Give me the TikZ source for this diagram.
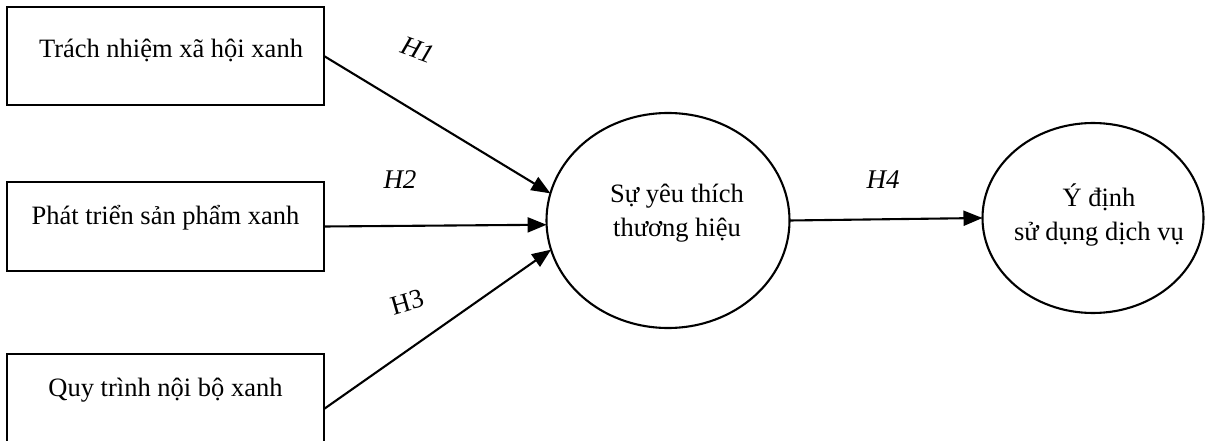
\documentclass[tikz,border=0pt]{standalone}
\usepackage{fontspec}
\setmainfont{Liberation Serif}
\usetikzlibrary{shapes.geometric,arrows.meta}
\begin{document}
\begin{tikzpicture}[x=1pt,y=-1pt,
  line width=2.1pt,
  every node/.style={inner sep=0pt,outer sep=0pt},
  construct/.style={draw,rectangle,minimum width=317pt,minimum height=98pt},
  latent/.style={draw,ellipse},
  txt/.style={font=\fontsize{26.5}{34}\selectfont,align=center},
  hyp/.style={font=\fontsize{27}{30}\selectfont\itshape},
  hypup/.style={font=\fontsize{27}{30}\selectfont},
  path/.style={-{Triangle[length=19pt,width=15pt]}}]
\clip (0,0) rectangle (1205,441);

% independent constructs
\node[construct] (b1) at (165.5,56) {};
\node[txt] (b1t) at (171,50) {Trách nhiệm xã hội xanh};
\node[construct,minimum height=89pt] (b2) at (165.5,226.5) {};
\node[txt] (b2t) at (165.5,218) {Phát triển sản phẩm xanh};
\node[construct] (b3) at (165.5,403) {};
\node[txt] (b3t) at (165.5,390) {Quy trình nội bộ xanh};

% mediator and outcome
\node[latent,minimum width=243pt,minimum height=215pt] (e1) at (668,220.5) {};
\node[txt] (e1t) at (677,213) {Sự yêu thích\\thương hiệu};
\node[latent,minimum width=221pt,minimum height=190pt] (e2) at (1093,218) {};
\node[txt] (e2t) at (1099,215) {Ý định\\sử dụng dịch vụ};

% hypothesised paths
\draw[path] (b1.east) -- (e1.167);
\draw[path] (b2.east) -- (e1.182);
\draw[path] ([yshift=-6pt]b3.east) -- (e1.194);
\draw[path] (e1.east) -- (e2.west);

% path labels
\node[hyp,rotate=-20] (h1) at (418,50) {H1};
\node[hyp] (h2) at (400,180) {H2};
\node[hypup,rotate=16] (h3) at (407,302) {H3};
\node[hyp] (h4) at (883,180) {H4};
\end{tikzpicture}
\end{document}
